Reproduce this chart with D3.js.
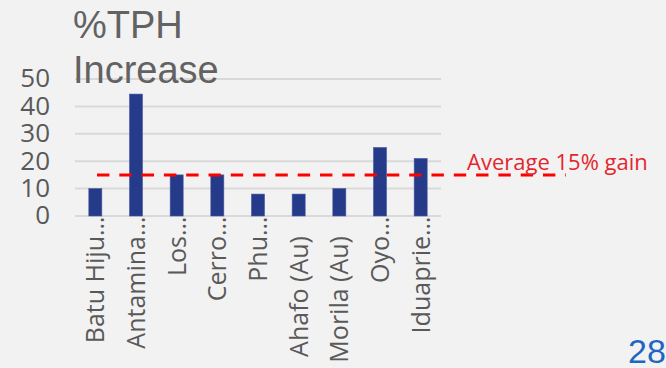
<!DOCTYPE html>
<html>
<head>
<meta charset="utf-8">
<script src="https://cdn.jsdelivr.net/npm/d3@7"></script>
<style>
  html, body { margin: 0; padding: 0; background: #f2f2f2; }
  svg { display: block; }
</style>
</head>
<body>
<svg id="chart" width="666" height="368"></svg>
<script>
// Mine sites and their throughput (%TPH) increase
const sites = ["Batu Hiju…", "Antamina…", "Los…", "Cerro…", "Phu…", "Ahafo (Au)", "Morila (Au)", "Oyo…", "Iduaprie…"];
const tphIncrease = [10, 44.5, 15, 15, 8, 8, 10, 25, 21];
const yTicks = [0, 10, 20, 30, 40, 50];
const averageGain = 15;
const titleLines = ["%TPH", "Increase"];
const averageLabel = "Average 15% gain";
const pageNumber = "28";

const svg = d3.select("#chart");
const W = 666, H = 368;

svg.append("rect").attr("width", W).attr("height", H).attr("fill", "#f2f2f2");

const plot = { left: 75, right: 441, top: 79, bottom: 216 };

const x = d3.scaleBand()
  .domain(sites)
  .range([plot.left, plot.right])
  .paddingInner(0.68)
  .paddingOuter(0.34);

const y = d3.scaleLinear()
  .domain([0, 50])
  .range([plot.bottom, plot.top]);

// Horizontal gridlines
svg.append("g")
  .selectAll("line")
  .data(yTicks)
  .join("line")
  .attr("x1", plot.left)
  .attr("x2", plot.right)
  .attr("y1", d => y(d))
  .attr("y2", d => y(d))
  .attr("stroke", "#d9d9d9")
  .attr("stroke-width", 2);

// Y axis labels
const yAxis = svg.append("g")
  .attr("transform", `translate(50,0)`)
  .call(d3.axisLeft(y).tickValues(yTicks).tickSize(0).tickPadding(0));
yAxis.select(".domain").remove();
yAxis.selectAll("text")
  .attr("x", 0)
  .attr("dy", "0.3em")
  .attr("font-family", "'Open Sans', sans-serif")
  .attr("font-size", 26)
  .attr("fill", "#595959")
  .attr("text-anchor", "end");

// Bars
svg.append("g")
  .selectAll("rect")
  .data(sites)
  .join("rect")
  .attr("x", d => x(d))
  .attr("width", x.bandwidth())
  .attr("y", (d, i) => y(tphIncrease[i]))
  .attr("height", (d, i) => y(0) - y(tphIncrease[i]))
  .attr("fill", "#263a8a")
  .attr("stroke", "#4558a0")
  .attr("stroke-width", 0.6);

// Category labels, rotated; truncated names keep their ellipsis past the anchor
const labelAnchorY = 236;
const xl = svg.append("g");
sites.forEach(name => {
  const cx = x(name) + x.bandwidth() / 2;
  const truncated = name.endsWith("…");
  const base = truncated ? name.slice(0, -1) : name;
  xl.append("text")
    .attr("transform", `translate(${cx + 9},${labelAnchorY}) rotate(-90)`)
    .attr("text-anchor", "end")
    .attr("font-family", "'Open Sans', sans-serif")
    .attr("font-size", 25)
    .attr("fill", "#595959")
    .text(base);
  if (truncated) {
    xl.append("text")
      .attr("transform", `translate(${cx + 9},${labelAnchorY}) rotate(-90)`)
      .attr("text-anchor", "start")
      .attr("font-family", "'Open Sans', sans-serif")
      .attr("font-size", 25)
      .attr("fill", "#595959")
      .text("…");
  }
});

// Average line
svg.append("line")
  .attr("x1", 97)
  .attr("x2", 566)
  .attr("y1", y(averageGain))
  .attr("y2", y(averageGain))
  .attr("stroke", "#ff0000")
  .attr("stroke-width", 3)
  .attr("stroke-dasharray", "12.4 9.9");

svg.append("text")
  .attr("x", 467)
  .attr("y", 170)
  .attr("font-family", "'Open Sans', sans-serif")
  .attr("font-size", 22)
  .attr("fill", "#e3262d")
  .text(averageLabel);

// Title
svg.append("g")
  .selectAll("text")
  .data(titleLines)
  .join("text")
  .attr("x", 73)
  .attr("y", (d, i) => 38 + i * 45)
  .attr("font-family", "'Liberation Sans', Arial, sans-serif")
  .attr("font-size", 38)
  .attr("fill", "#626262")
  .text(d => d);

// Page number
svg.append("text")
  .attr("x", 628)
  .attr("y", 363)
  .attr("font-family", "'Liberation Sans', Arial, sans-serif")
  .attr("font-size", 34)
  .attr("fill", "#1f66c2")
  .text(pageNumber);
</script>
</body>
</html>
